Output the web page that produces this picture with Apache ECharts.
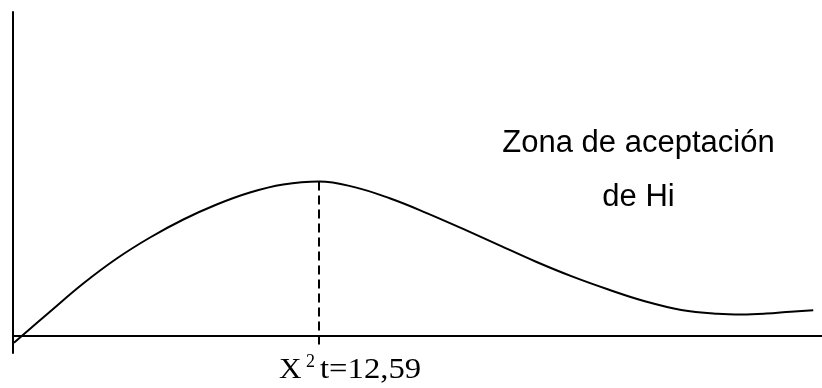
<!DOCTYPE html>
<html>
<head>
<meta charset="utf-8">
<script src="https://cdn.jsdelivr.net/npm/echarts@6/dist/echarts.min.js"></script>
<style>
html,body{margin:0;padding:0;background:#fff;}
#chart{width:822px;height:388px;}
</style>
</head>
<body>
<div id="chart"></div>
<script>
// Curve (x in chi-square units, y in arbitrary density units)
var curveX = [0.04, 1.52, 2.89, 4.27, 5.64, 7.01, 8.38, 9.75, 11.12, 12.59, 14.05, 15.5, 17.0, 18.5, 20.0, 21.5, 23.0, 24.5, 26.0, 27.5, 29.0, 30.0, 31.0, 32.0, 32.93];
var curveY = [-6.7, 24.3, 52.5, 77.5, 98.5, 116.5, 131.5, 143.5, 151.5, 154.5, 148.9, 137.7, 123.2, 107.3, 90.9, 74.5, 59.6, 46.5, 34.8, 26.1, 22.2, 21.5, 22.4, 24.3, 25.8];
var criticalValue = 12.59;
var criticalTop = 154.5;
var criticalBottom = -9;
var zoneLines = ["Zona de aceptación", "de Hi"];
var critLabelMain = "X";
var critLabelSup = "2";
var critLabelRest = "t=12,59";

var data = curveX.map(function (x, i) { return [x, curveY[i]]; });

var chart = echarts.init(document.getElementById('chart'), null, {renderer: 'canvas'});
chart.setOption({
  animation: false,
  backgroundColor: '#fff',
  grid: {left: 13, right: 0, top: 12, bottom: 35, containLabel: false},
  xAxis: {
    type: 'value', min: 0, max: 33.29,
    axisLine: {show: true, onZero: true, lineStyle: {color: '#000', width: 2}},
    axisTick: {show: false}, axisLabel: {show: false}, splitLine: {show: false}
  },
  yAxis: {
    type: 'value', min: -17, max: 324,
    axisLine: {show: true, onZero: false, lineStyle: {color: '#000', width: 2}},
    axisTick: {show: false}, axisLabel: {show: false}, splitLine: {show: false}
  },
  series: [{
    type: 'line',
    data: data,
    smooth: 0.4,
    smoothConstraint: false,
    showSymbol: false,
    silent: true,
    lineStyle: {color: '#000', width: 2},
    markLine: {
      silent: true,
      symbol: 'none',
      label: {show: false},
      lineStyle: {color: '#000', width: 2, type: [9, 5]},
      data: [[{coord: [criticalValue, criticalTop]}, {coord: [criticalValue, criticalBottom]}]]
    }
  }],
  graphic: [
    {type: 'text', x: 638.5, y: 143, silent: true,
     style: {text: zoneLines[0], font: '31px "Liberation Sans", Arial, sans-serif', fill: '#000', align: 'center', verticalAlign: 'middle'}},
    {type: 'text', x: 638.5, y: 197.5, silent: true,
     style: {text: zoneLines[1], font: '31px "Liberation Sans", Arial, sans-serif', fill: '#000', align: 'center', verticalAlign: 'middle'}},
    {type: 'text', x: 279, y: 370, scaleX: 1.04, silent: true,
     style: {text: critLabelMain, font: '30px "Liberation Serif", "Times New Roman", serif', fill: '#000', align: 'left', verticalAlign: 'middle'}},
    {type: 'text', x: 306, y: 362, silent: true,
     style: {text: critLabelSup, font: '18px "Liberation Serif", "Times New Roman", serif', fill: '#000', align: 'left', verticalAlign: 'middle'}},
    {type: 'text', x: 320, y: 370, scaleX: 1.09, silent: true,
     style: {text: critLabelRest, font: '30px "Liberation Serif", "Times New Roman", serif', fill: '#000', align: 'left', verticalAlign: 'middle'}}
  ]
});
</script>
</body>
</html>
